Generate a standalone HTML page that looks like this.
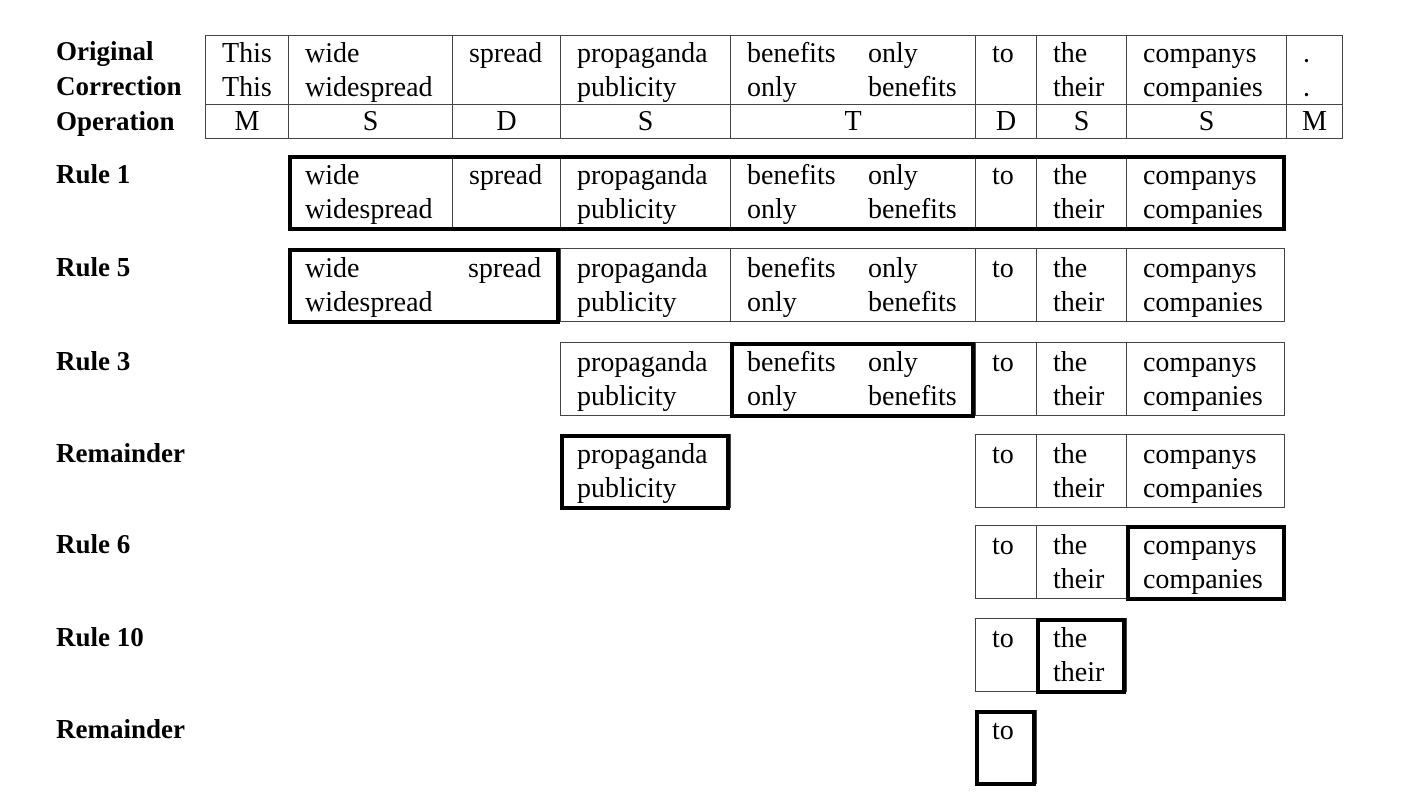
<!DOCTYPE html>
<html><head><meta charset="utf-8"><style>
body{margin:0;width:1404px;height:807px;background:#fff;position:relative;overflow:hidden;font-family:"Liberation Serif","Times New Roman",serif;color:#000}
.lbl{position:absolute;left:56px;font-weight:bold;font-size:27px;line-height:34px;font-family:"Liberation Serif",serif}
.c{position:absolute;box-sizing:border-box;border:1px solid #444;font-family:"Liberation Serif",serif;font-size:28px;line-height:34px;padding:3px 0 0 16px;white-space:pre}
.k{position:absolute;box-sizing:border-box;border:4px solid #000}
.op{text-align:center;padding:0}
.hdr{padding-top:1px}
.c span{line-height:34px}
</style></head><body>
<div class="lbl" style="top:34px">Original</div>
<div class="lbl" style="top:69px">Correction</div>
<div class="lbl" style="top:104px">Operation</div>
<script>
const cols=[205,288,452,560,730,975,1036,1126,1286,1342];
const orig=["This","wide","spread","propaganda","benefits","to","the","companys","."];
const corr=["This","widespread","","publicity","only","","their","companies","."];
const ops=["M","S","D","S","T","D","S","S","M"];
const rows=[
 {label:"Rule 1",top:155,from:1,to:8,thick:[[1,8]]},
 {label:"Rule 5",top:248,from:1,to:8,thick:[[1,3]],merge:true},
 {label:"Rule 3",top:342,from:3,to:8,thick:[[4,5]]},
 {label:"Remainder",top:434,from:3,to:8,skip:[4],thick:[[3,4]]},
 {label:"Rule 6",top:525,from:5,to:8,thick:[[7,8]]},
 {label:"Rule 10",top:618,from:5,to:7,thick:[[6,7]]},
 {label:"Remainder",top:710,from:5,to:6,thick:[[5,6]]}
];
const root=document.body;
function cell(x0,x1,y,h,html,name,cls){
 const d=document.createElement('div');
 d.className='c'+(cls?' '+cls:'');
 d.style.left=x0+'px';d.style.top=y+'px';d.style.width=(x1-x0+1)+'px';d.style.height=h+'px';
 d.innerHTML=html;
 
 
 root.appendChild(d);return d;
}
function txt(i,pt){
 if(i===4) return 'benefits<span style="position:absolute;left:137px;top:'+pt+'px">only\nbenefits</span>\nonly';
 return orig[i]+'\n'+corr[i];
}
for(let i=0;i<9;i++){
 const x1=i===8?1342:cols[i+1];
 cell(cols[i],x1,35,70,txt(i,1),'header-cell-'+i,'hdr');
 cell(cols[i],x1,104,35,ops[i],'operation-cell-'+i,'op');
}
rows.forEach((r,ri)=>{
 const l=document.createElement('div');
 l.className='lbl';l.style.top=(r.top+2)+'px';l.textContent=r.label;
 
 
 root.appendChild(l);
 for(let i=r.from;i<r.to;i++){
  if(r.skip&&r.skip.includes(i))continue;
  if(r.merge&&i===1){
   const d=cell(cols[1],cols[3],r.top,74,'wide<span style="position:absolute;left:179px;top:3px">spread</span>\nwidespread','rule-'+ri+'-cell-merged');
   d.style.borderColor='transparent';
   i=2;continue;
  }
  const x1=i===7?1284:cols[i+1];
  cell(cols[i],x1,r.top,74,txt(i,3),'rule-'+ri+'-cell-'+i);
 }
 r.thick.forEach(t=>{
  const k=document.createElement('div');
  k.className='k';
  const x0=cols[t[0]],x1=t[1]===8?1286:cols[t[1]];
  k.style.left=x0+'px';k.style.top=r.top+'px';k.style.width=(x1-x0)+'px';k.style.height='76px';
  
  
  root.appendChild(k);
 });
});
</script>
</body></html>
